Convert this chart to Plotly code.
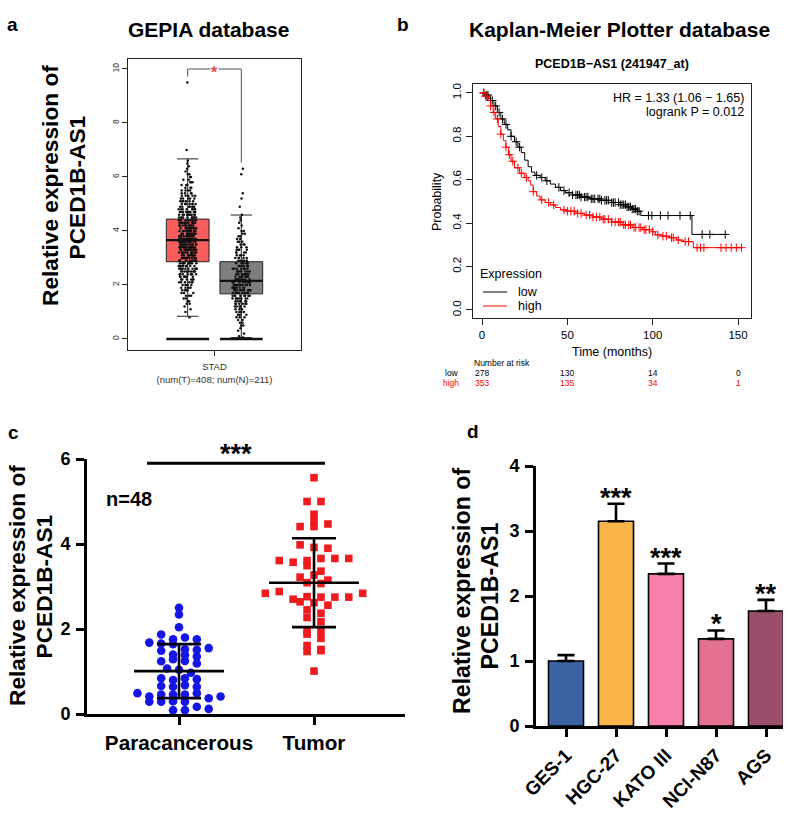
import numpy as np
import plotly.graph_objects as go

# ----------------------------- DATA -----------------------------
# (a) GEPIA STAD box plot
gepia_groups = ["Tumor", "Normal"]
gepia_q1 = [2.86, 1.67]
gepia_median = [3.66, 2.15]
gepia_q3 = [4.44, 2.86]
gepia_lower = [0.84, 0.05]
gepia_upper = [6.67, 4.59]
gepia_label = "STAD<br>(num(T)=408; num(N)=211)"

tumor_levels = [0.8, 1.0, 1.1, 1.2, 1.3, 1.4, 1.5, 1.6, 1.7, 1.8, 1.9,
                2.0, 2.1, 2.2, 2.3, 2.4, 2.5, 2.6, 2.7, 2.8, 2.9,
                3.0, 3.1, 3.2, 3.3, 3.4, 3.5, 3.6, 3.7, 3.8, 3.9,
                4.0, 4.1, 4.2, 4.3, 4.4, 4.5, 4.6, 4.7, 4.8, 4.9,
                5.0, 5.1, 5.2, 5.3, 5.4, 5.5, 5.6, 5.7, 5.8, 5.9,
                6.0, 6.1, 6.2, 6.3, 6.4, 6.5, 6.6, 7.0, 9.5]
tumor_counts = [1, 1, 1, 1, 2, 2, 2, 3, 3, 4, 4,
                5, 6, 6, 7, 8, 9, 10, 10, 11, 13,
                12, 13, 13, 15, 15, 15, 15, 15, 14, 13,
                13, 14, 12, 12, 11, 10, 10, 9, 8, 7,
                7, 6, 5, 5, 4, 4, 3, 3, 3, 2,
                2, 2, 1, 1, 1, 1, 1, 1, 1]
normal_levels = [0.05, 0.1, 0.2, 0.3, 0.4, 0.5, 0.6, 0.7, 0.8, 0.9,
                 1.0, 1.1, 1.2, 1.3, 1.4, 1.5, 1.6, 1.7, 1.8, 1.9,
                 2.0, 2.1, 2.2, 2.3, 2.4, 2.5, 2.6, 2.7, 2.8, 2.9,
                 3.0, 3.1, 3.2, 3.3, 3.4, 3.5, 3.6, 3.7, 3.8, 3.9,
                 4.0, 4.1, 4.2, 4.3, 4.4, 4.5, 4.6, 4.9, 5.2, 5.4, 6.1, 6.3]
normal_counts = [1, 1, 1, 1, 1, 2, 2, 2, 3, 3,
                 4, 4, 5, 6, 7, 8, 8, 10, 10, 10,
                 10, 10, 10, 8, 8, 7, 7, 6, 6, 5,
                 5, 4, 4, 4, 3, 3, 3, 2, 2, 2,
                 2, 1, 1, 1, 1, 1, 1, 1, 1, 1, 1, 1]

# (b) Kaplan-Meier curves
km_low_times = [0, 2, 4, 5, 7, 9, 11, 13, 15, 17, 19, 21, 23, 25, 27, 29, 31, 34,
                37, 40, 43, 46, 49, 53, 58, 63, 70, 76, 81, 85, 88, 91, 93, 123]
km_low_surv = [1.0, 0.99, 0.975, 0.965, 0.94, 0.91, 0.88, 0.855, 0.83, 0.80, 0.775,
               0.75, 0.725, 0.69, 0.66, 0.635, 0.62, 0.61, 0.595, 0.58, 0.565, 0.55,
               0.54, 0.53, 0.52, 0.512, 0.505, 0.495, 0.485, 0.475, 0.465, 0.455,
               0.435, 0.348]
km_low_censor = [1, 2.5, 3.5, 5, 6, 8, 10, 12, 14, 17, 20, 22, 32, 35, 38, 45, 48,
                 51, 53, 55, 56, 57, 58, 60, 61, 62, 64, 65, 66, 68, 69, 70, 72, 73,
                 74, 76, 77, 78, 80, 81, 82, 83, 84, 85, 86, 87, 88, 89, 90, 91, 92,
                 97.5, 99.5, 104.5, 109, 116, 122, 129, 133.5, 142.5]
km_high_times = [0, 2, 3.5, 5, 6.5, 8, 9.5, 11, 12.5, 14, 15.5, 17, 19, 22, 25, 27,
                 28.5, 30, 32, 34, 37, 40, 43, 46, 50, 55, 60, 65, 70, 76, 82, 88,
                 94, 100, 101.5, 106, 110, 114, 118, 123.8]
km_high_surv = [1.0, 0.985, 0.965, 0.94, 0.91, 0.88, 0.845, 0.81, 0.78, 0.75, 0.715,
                0.685, 0.655, 0.63, 0.61, 0.595, 0.575, 0.545, 0.525, 0.507, 0.495,
                0.484, 0.472, 0.461, 0.455, 0.445, 0.437, 0.428, 0.418, 0.405, 0.392,
                0.38, 0.37, 0.36, 0.346, 0.34, 0.333, 0.322, 0.315, 0.287]
km_high_censor = [1, 2, 3, 5, 7, 9, 11, 14, 16, 18, 21, 23, 26, 30, 35, 39, 42, 48,
                  50, 52, 54, 56, 58, 61, 63, 65, 67, 69, 71, 72, 74, 76, 78, 80, 81,
                  83, 84, 86, 87, 89, 90, 92, 93, 95, 96, 98, 100, 103, 106, 108, 111,
                  112, 115, 119, 121, 126, 128, 130, 140, 143, 146, 149, 152]
km_ticks = [0, 50, 100, 150]
risk_low = [278, 130, 14, 0]
risk_high = [353, 135, 34, 1]
km_hr_text = "HR = 1.33 (1.06 \u2212 1.65)"
km_p_text = "logrank P = 0.012"

# (c) tissue dot plot
tissue_groups = ["Paracancerous", "Tumor"]
para_values = [2.50, 2.34, 2.04, 1.87, 1.76, 1.80, 1.76, 1.68, 1.66, 1.64,
               1.52, 1.49, 1.51, 1.55, 1.40, 1.39, 1.24, 1.29, 1.25, 1.35,
               1.19, 1.07, 1.04, 0.97, 0.84, 0.80, 0.84, 0.82, 0.66, 0.64,
               0.68, 0.64, 0.49, 0.41, 0.46, 0.46, 0.46, 0.49, 0.29, 0.29,
               0.37, 0.41, 0.30, 0.29, 0.09, 0.17, 0.09, 0.12]
tumor_values = [5.56, 5.00, 5.00, 4.70, 4.53, 4.41, 4.41, 4.47, 3.98, 3.92,
                3.90, 3.61, 3.57, 3.61, 3.66, 3.66, 3.66, 3.49, 3.36, 3.22,
                3.27, 3.15, 3.09, 3.07, 2.84, 2.64, 2.88, 2.70, 2.76, 2.75,
                2.75, 2.75, 2.84, 2.62, 2.56, 2.45, 2.37, 2.27, 2.17, 1.96,
                1.88, 1.94, 1.78, 1.61, 1.52, 1.47, 1.49, 1.01]

# (d) cell lines
cell_lines = ["GES-1", "HGC-27", "KATO III", "NCI-N87", "AGS"]
cell_means = [1.00, 3.15, 2.34, 1.34, 1.77]
cell_errs = [0.09, 0.27, 0.16, 0.13, 0.17]
cell_stars = ["", "***", "***", "*", "**"]

# ----------------------------- STYLE -----------------------------
FONT = "Arial, Liberation Sans, sans-serif"
W, H = 800, 813


def PX(x):
    return x / W


def PY(y):
    return 1 - y / H


fig = go.Figure()
annotations = []
shapes = []

# ----------------------------- (a) -----------------------------
a_pos = [0.345, 0.655]
a_w = 0.247
a_fill = ["#F85E5E", "#7E7E7E"]
samples = [np.repeat(tumor_levels, tumor_counts), np.repeat(normal_levels, normal_counts)]
for i in range(2):
    c = a_pos[i]
    fig.add_trace(go.Box(
        x=[c], q1=[gepia_q1[i]], median=[gepia_median[i]], q3=[gepia_q3[i]],
        lowerfence=[gepia_lower[i]], upperfence=[gepia_upper[i]],
        width=a_w, fillcolor=a_fill[i], line=dict(color="#222222", width=1),
        whiskerwidth=0.5, boxpoints=False, xaxis="x", yaxis="y",
        showlegend=False, hoverinfo="skip"))
    s = samples[i]
    fig.add_trace(go.Box(
        x=np.full(len(s), c), y=s, boxpoints="all", jitter=0.42, pointpos=0,
        width=a_w, fillcolor="rgba(0,0,0,0)",
        line=dict(width=0, color="rgba(0,0,0,0)"),
        marker=dict(size=2.5, color="#111111"), xaxis="x", yaxis="y",
        showlegend=False, hoverinfo="skip"))
    fig.add_trace(go.Scatter(x=[c - a_w / 2, c + a_w / 2], y=[gepia_median[i]] * 2,
                             mode="lines", line=dict(color="#111111", width=2.2),
                             xaxis="x", yaxis="y", showlegend=False, hoverinfo="skip"))
    fig.add_trace(go.Scatter(x=[c - a_w / 2, c + a_w / 2], y=[0, 0],
                             mode="lines", line=dict(color="#111111", width=2.6),
                             xaxis="x", yaxis="y", showlegend=False, hoverinfo="skip"))

top = max(samples[0].max(), samples[1].max()) + 0.5
fig.add_trace(go.Scatter(
    x=[a_pos[0], a_pos[0], a_pos[1], a_pos[1]],
    y=[samples[0].max() + 0.22, top, top, samples[1].max() + 0.22],
    mode="lines", line=dict(color="#555555", width=1),
    xaxis="x", yaxis="y", showlegend=False, hoverinfo="skip"))
annotations.append(dict(x=(a_pos[0] + a_pos[1]) / 2, y=top, xref="x", yref="y",
                        text="<b>*</b>", showarrow=False, bgcolor="white", yshift=-4,
                        borderpad=0,
                        font=dict(family=FONT, size=16, color="#E5484D")))

# ----------------------------- (b) -----------------------------
for times, surv, cens, col in [(km_low_times, km_low_surv, km_low_censor, "black"),
                               (km_high_times, km_high_surv, km_high_censor, "#FF0000")]:
    t_end = max(cens)
    fig.add_trace(go.Scatter(x=list(times) + [t_end], y=list(surv) + [surv[-1]],
                             mode="lines", line=dict(color=col, width=1, shape="hv"),
                             xaxis="x2", yaxis="y2", showlegend=False, hoverinfo="skip"))
    idx = np.searchsorted(np.array(times), np.array(cens), side="right") - 1
    fig.add_trace(go.Scatter(x=cens, y=np.array(surv)[idx], mode="markers",
                             marker=dict(symbol="cross-thin", size=6,
                                         line=dict(color=col, width=1)),
                             xaxis="x2", yaxis="y2", showlegend=False, hoverinfo="skip"))

# ----------------------------- (c) -----------------------------
def swarm(vals, center, row_h, col_w):
    vals = np.asarray(vals, dtype=float)
    rows = np.floor(vals / row_h + 0.5)
    x = np.empty(len(vals))
    for r in np.unique(rows):
        idx = np.where(rows == r)[0]
        n = len(idx)
        x[idx] = center + (np.arange(n) - (n - 1) / 2) * col_w
    return x


c_specs = [(para_values, 1, "#1515E6", "circle", 8.6, 0.088),
           (tumor_values, 2, "#EE1B1F", "square", 7.6, 0.103)]
for vals, cx, col, sym, size, cw in c_specs:
    fig.add_trace(go.Scatter(x=swarm(vals, cx, 0.2, cw), y=vals, mode="markers",
                             marker=dict(symbol=sym, size=size, color=col, line=dict(width=0)),
                             cliponaxis=False, xaxis="x3", yaxis="y3",
                             showlegend=False, hoverinfo="skip"))
for vals, cx, *_ in c_specs:
    m = float(np.mean(vals))
    sd = float(np.std(vals, ddof=1))
    fig.add_trace(go.Scatter(x=[cx - 0.333, cx + 0.333], y=[m, m], mode="lines",
                             line=dict(color="black", width=2.6),
                             xaxis="x3", yaxis="y3", showlegend=False, hoverinfo="skip"))
    fig.add_trace(go.Scatter(x=[cx], y=[m], mode="markers", marker=dict(size=1, color="black"),
                             error_y=dict(type="data", array=[sd], color="black",
                                          thickness=2.6, width=22),
                             xaxis="x3", yaxis="y3", showlegend=False, hoverinfo="skip"))

sig_y = 5.9
fig.add_trace(go.Scatter(x=[0.763, 2.081], y=[sig_y, sig_y], mode="lines",
                         line=dict(color="black", width=3.2), cliponaxis=False,
                         xaxis="x3", yaxis="y3", showlegend=False, hoverinfo="skip"))
annotations.append(dict(x=1.422, y=sig_y, xref="x3", yref="y3", text="<b>***</b>",
                        showarrow=False, yanchor="bottom", yshift=-8,
                        font=dict(family=FONT, size=27, color="black")))
annotations.append(dict(x=0.63, y=5.06, xref="x3", yref="y3",
                        text="<b>n=%d</b>" % len(para_values), showarrow=False,
                        font=dict(family=FONT, size=20, color="black")))

# ----------------------------- (d) -----------------------------
d_colors = ["#3B63A3", "#F9B548", "#F97EAC", "#E2708F", "#9A4E6B"]
d_x = list(range(len(cell_lines)))
fig.add_trace(go.Bar(x=d_x, y=cell_means, width=0.7,
                     marker=dict(color=d_colors, line=dict(color="black", width=1.6)),
                     error_y=dict(type="data", symmetric=False, array=cell_errs,
                                  arrayminus=[0] * len(cell_errs), color="black",
                                  thickness=2.6, width=8.5),
                     xaxis="x4", yaxis="y4", showlegend=False, hoverinfo="skip"))
for xi, m, e, st in zip(d_x, cell_means, cell_errs, cell_stars):
    if st:
        annotations.append(dict(x=xi, y=m + e, xref="x4", yref="y4", text="<b>%s</b>" % st,
                                showarrow=False, yanchor="bottom", yshift=-11,
                                font=dict(family=FONT, size=27, color="black")))

# ----------------------------- TEXT -----------------------------
def ann(text, x, y, size, bold=False, color="black", angle=0, xanchor="center", yanchor="middle"):
    annotations.append(dict(text=("<b>%s</b>" % text) if bold else text,
                            x=PX(x), y=PY(y), xref="paper", yref="paper",
                            showarrow=False, textangle=angle, xanchor=xanchor,
                            yanchor=yanchor, font=dict(family=FONT, size=size, color=color)))


ann("GEPIA database", 208, 30, 21, bold=True)
ann("Kaplan-Meier Plotter database", 619, 30, 21, bold=True)
ann("PCED1B\u2212AS1 (241947_at)", 612, 64, 12.5, bold=True)
for lab, x, y in [("a", 12, 24), ("b", 403, 24), ("c", 13, 432), ("d", 473, 431)]:
    ann(lab, x, y, 19, bold=True)

# y titles
ann("Relative expression of", 50, 186, 22.7, bold=True, angle=-90)
ann("PCED1B-AS1", 76.5, 188, 22.7, bold=True, angle=-90)
ann("Relative expression of", 17, 586, 22.7, bold=True, angle=-90)
ann("PCED1B-AS1", 43.5, 587, 22.7, bold=True, angle=-90)
ann("Relative expression of", 462, 591, 23.2, bold=True, angle=-90)
ann("PCED1B-AS1", 489.5, 596, 23.2, bold=True, angle=-90)

# KM texts
ann("Probability", 437, 202, 12.5, angle=-90)
ann("Time (months)", 612, 352, 12.5)
ann(km_hr_text, 746, 98, 12.5, xanchor="right")
ann(km_p_text, 746, 112, 12.5, xanchor="right")
ann("Expression", 478, 274, 12.5, xanchor="left")
ann("low", 516, 292, 12.5, xanchor="left")
ann("high", 516, 306, 12.5, xanchor="left")
shapes.append(dict(type="line", xref="paper", yref="paper", x0=PX(483), x1=PX(507),
                   y0=PY(292), y1=PY(292), line=dict(color="black", width=1)))
shapes.append(dict(type="line", xref="paper", yref="paper", x0=PX(483), x1=PX(507),
                   y0=PY(306), y1=PY(306), line=dict(color="#FF0000", width=1)))

ann("Number at risk", 472, 363, 8.5, xanchor="left")
ann("low", 461, 373, 8.5, xanchor="right")
ann("high", 461, 383, 8.5, xanchor="right", color="#FF0000")
for t, lo, hi in zip(km_ticks, risk_low, risk_high):
    annotations.append(dict(text=str(lo), x=t, y=PY(373), xref="x2", yref="paper",
                            showarrow=False, font=dict(family=FONT, size=8.5, color="black")))
    annotations.append(dict(text=str(hi), x=t, y=PY(383), xref="x2", yref="paper",
                            showarrow=False, font=dict(family=FONT, size=8.5, color="#FF0000")))

# ----------------------------- LAYOUT -----------------------------
thin = dict(showline=True, linecolor="#222222", linewidth=1, mirror=True, ticks="outside",
            tickwidth=1, tickcolor="#222222", showgrid=False, zeroline=False, automargin=False)
thick = dict(showline=True, linecolor="black", linewidth=2.6, mirror=False, ticks="outside",
             ticklen=8, tickwidth=2.6, tickcolor="black", showgrid=False, zeroline=False,
             automargin=False)

fig.update_layout(
    width=W, height=H, margin=dict(l=0, r=0, t=0, b=0, autoexpand=False),
    paper_bgcolor="white", plot_bgcolor="white", boxmode="overlay",
    font=dict(family=FONT, color="black"),
    xaxis=dict(domain=[PX(128), PX(301)], anchor="y", range=[0, 1],
               tickvals=[0.5], ticktext=[gepia_label], ticklabelstandoff=3, ticklen=5,
               tickfont=dict(family=FONT, size=9.5, color="#333333"), **thin),
    yaxis=dict(domain=[PY(350), PY(59)], anchor="x", range=[-0.41, 10.37],
               tickvals=[0, 2, 4, 6, 8, 10], tickangle=-90, ticklen=5,
               tickfont=dict(family=FONT, size=8.5, color="#333333"), **thin),
    xaxis2=dict(domain=[PX(473), PX(751)], anchor="y2", range=[-5.3, 157.6],
                tickvals=km_ticks, ticklen=6,
                tickfont=dict(family=FONT, size=11.5, color="black"), **thin),
    yaxis2=dict(domain=[PY(318), PY(84)], anchor="x2", range=[-0.037, 1.041],
                tickvals=[0, 0.2, 0.4, 0.6, 0.8, 1.0],
                ticktext=["0.0", "0.2", "0.4", "0.6", "0.8", "1.0"], tickangle=-90, ticklen=6,
                tickfont=dict(family=FONT, size=11.5, color="black"), **thin),
    xaxis3=dict(domain=[PX(87), PX(405)], anchor="y3", range=[0.3185, 2.674],
                tickvals=[1, 2], ticktext=tissue_groups, ticklabelstandoff=0,
                tickfont=dict(family=FONT, size=20.7, color="black", weight="bold"), **thick),
    yaxis3=dict(domain=[PY(714), PY(459)], anchor="x3", range=[0, 6],
                tickvals=[0, 2, 4, 6], ticklabelstandoff=2,
                tickfont=dict(family=FONT, size=18, color="black", weight="bold"), **thick),
    xaxis4=dict(domain=[PX(536), PX(783)], anchor="y4", range=[-0.6, 4.34],
                tickvals=d_x, ticktext=cell_lines, tickangle=-45,
                tickfont=dict(family=FONT, size=19, color="black", weight="bold"), **thick),
    yaxis4=dict(domain=[PY(726), PY(466)], anchor="x4", range=[0, 4],
                tickvals=[0, 1, 2, 3, 4], ticklabelstandoff=2,
                tickfont=dict(family=FONT, size=18, color="black", weight="bold"), **thick),
    annotations=annotations, shapes=shapes,
)

fig.write_html("out.html", config={"displayModeBar": False},
               post_script="document.body.style.margin='0';document.body.style.overflow='hidden';")
